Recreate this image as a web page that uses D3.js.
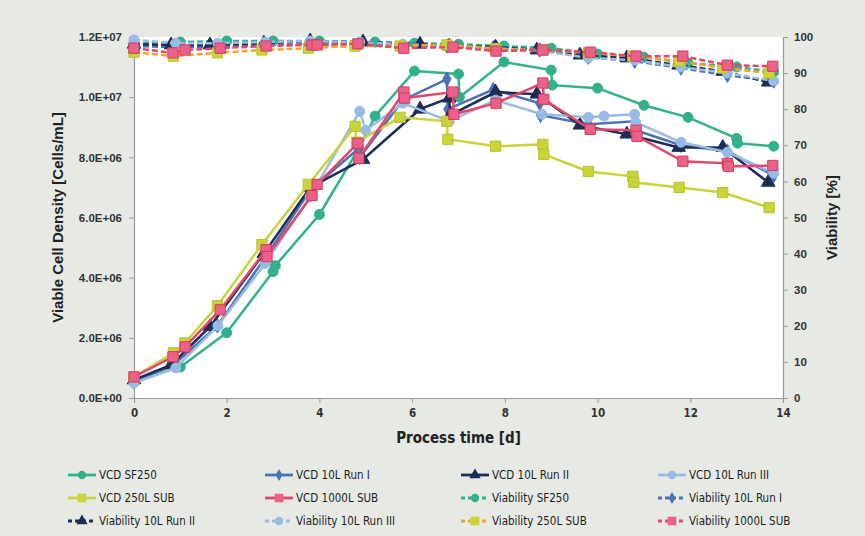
<!DOCTYPE html>
<html>
<head>
<meta charset="utf-8">
<script src="https://cdn.jsdelivr.net/npm/d3@7"></script>
<style>
  body { margin: 0; background: #e6e9e4; }
  svg { display: block; }
  .tick text { font-family: "Liberation Sans", Arial, sans-serif; font-weight: bold; fill: #333; }
  .xax .tick text { font-family: "DejaVu Sans Condensed", "Liberation Sans Narrow", sans-serif; }
  .legend text { font-family: "DejaVu Sans Condensed", "Liberation Sans Narrow", sans-serif; font-size: 11.5px; fill: #1e1e1e; }
</style>
</head>
<body>
<svg id="chart" width="865" height="536"></svg>
<script>
// tick values
var dayTicks = [0, 2, 4, 6, 8, 10, 12, 14];
var vcdTicks = [0, 2e6, 4e6, 6e6, 8e6, 10e6, 12e6];
var viaTicks = [0, 10, 20, 30, 40, 50, 60, 70, 80, 90, 100];

// VCD (1e6 cells/mL)
var sf250Days = [0, 1.0, 2.0, 3.0, 3.05, 4.0, 4.85, 5.2, 6.05, 7.0, 7.02, 7.98, 9.0, 9.02, 10.0, 11.0, 11.95, 13.0, 13.02, 13.8];
var sf250Vcd  = [0.6, 1.03, 2.17, 4.2, 4.4, 6.1, 8.3, 9.37, 10.87, 10.77, 10.0, 11.17, 10.9, 10.4, 10.3, 9.73, 9.33, 8.63, 8.47, 8.37];
var run1Days = [0, 0.85, 1.8, 2.8, 3.8, 4.85, 4.87, 5.8, 6.75, 6.77, 7.75, 8.75, 8.77, 9.8, 10.8, 10.82, 11.8, 12.8, 13.8];
var run1Vcd  = [0.55, 1.1, 2.4, 4.6, 6.9, 8.3, 8.0, 9.9, 10.6, 9.6, 10.25, 9.8, 9.4, 9.1, 9.2, 8.9, 8.4, 8.2, 7.4];
var run2Days = [0, 0.8, 1.64, 2.8, 3.8, 4.94, 6.17, 6.8, 6.82, 7.8, 8.69, 9.62, 10.63, 11.75, 12.7, 13.68];
var run2Vcd  = [0.6, 1.1, 2.37, 4.8, 7.0, 7.93, 9.6, 9.97, 9.4, 10.17, 10.1, 9.07, 8.77, 8.33, 8.33, 7.17];
var run3Days = [0, 0.9, 1.81, 2.83, 3.8, 4.87, 5.0, 5.8, 6.8, 7.8, 8.8, 9.8, 10.14, 10.8, 10.82, 11.8, 12.8, 13.8];
var run3Vcd  = [0.5, 1.0, 2.4, 4.47, 6.7, 9.53, 8.9, 9.8, 9.2, 9.9, 9.43, 9.33, 9.37, 9.43, 9.17, 8.5, 8.17, 7.47];
var sub250Days = [0, 0.85, 1.1, 1.8, 2.76, 3.76, 4.77, 4.8, 5.74, 6.75, 6.77, 7.8, 8.82, 8.84, 9.8, 10.76, 10.78, 11.76, 12.7, 13.7];
var sub250Vcd  = [0.7, 1.5, 1.83, 3.07, 5.1, 7.1, 9.03, 8.5, 9.33, 9.2, 8.6, 8.37, 8.43, 8.1, 7.53, 7.37, 7.17, 7.0, 6.83, 6.33];
var sub1000Days = [0, 0.84, 1.1, 1.86, 2.85, 2.87, 3.84, 3.95, 4.83, 4.85, 5.82, 5.84, 6.88, 6.9, 7.81, 8.82, 8.84, 9.84, 10.83, 10.85, 11.84, 12.8, 12.82, 13.78];
var sub1000Vcd  = [0.7, 1.37, 1.7, 2.93, 4.93, 4.7, 6.73, 7.1, 8.47, 7.97, 10.17, 9.97, 10.17, 9.43, 9.8, 10.47, 9.93, 8.93, 8.9, 8.7, 7.87, 7.8, 7.7, 7.73];

// viability (%)
var sf250ViaDays = [0, 1, 2, 3, 4, 5.2, 6.05, 7, 7.98, 9, 10, 11, 11.95, 13, 13.8];
var sf250Via     = [98.3, 98.6, 98.9, 98.9, 98.9, 98.6, 98.3, 98.0, 97.5, 96.9, 95.3, 94.4, 92.8, 91.7, 90.3];
var run1ViaDays = [0, 0.85, 1.8, 2.8, 3.8, 4.85, 5.8, 6.75, 7.75, 8.75, 9.8, 10.8, 11.8, 12.8, 13.8];
var run1Via     = [97.5, 97.2, 97.2, 97.8, 98.0, 98.0, 97.5, 97.5, 97.0, 96.4, 94.4, 93.3, 91.4, 89.4, 87.8];
var run2ViaDays = [0, 0.8, 1.64, 2.8, 3.8, 4.94, 6.17, 6.8, 7.8, 8.69, 9.62, 10.63, 11.75, 12.7, 13.68];
var run2Via     = [98.0, 97.8, 97.8, 98.3, 98.9, 98.6, 98.0, 97.5, 97.2, 96.4, 95.0, 94.2, 92.2, 90.5, 87.5];
var run3ViaDays = [0, 0.9, 1.81, 2.83, 3.8, 4.87, 5.8, 6.8, 7.8, 8.8, 9.8, 10.8, 11.8, 12.8, 13.8];
var run3Via     = [99.2, 98.3, 98.3, 98.6, 98.9, 98.6, 98.0, 97.5, 96.9, 96.1, 94.2, 93.6, 91.7, 90.0, 87.8];
var sub250ViaDays = [0, 0.85, 1.8, 2.76, 3.76, 4.77, 5.74, 6.75, 7.8, 8.82, 9.8, 10.76, 11.76, 12.7, 13.7];
var sub250Via     = [95.8, 94.7, 95.6, 96.4, 96.9, 97.5, 97.5, 97.8, 96.7, 96.4, 95.6, 94.7, 93.3, 91.4, 90.0];
var sub1000ViaDays = [0, 0.84, 1.1, 1.86, 2.85, 3.84, 3.95, 4.83, 5.82, 6.88, 7.81, 8.82, 9.84, 10.83, 11.84, 12.8, 13.78];
var sub1000Via     = [96.9, 95.6, 96.4, 96.9, 97.5, 97.8, 97.8, 98.1, 96.9, 97.2, 96.1, 96.4, 95.8, 94.7, 94.7, 92.2, 91.9];

var teal = "#32b08b", blue = "#4a73b1", navy = "#1c2c55", light = "#98bbe6",
    lime = "#c9d33a", orange = "#f2a52e", pink = "#e2476d";

var series = [
  { name: "VCD SF250", days: sf250Days, vals: sf250Vcd, axis: "vcd", line: teal, fill: teal, sym: d3.symbolCircle, dash: null },
  { name: "VCD 10L Run I", days: run1Days, vals: run1Vcd, axis: "vcd", line: blue, fill: blue, sym: d3.symbolDiamond, dash: null },
  { name: "VCD 10L Run II", days: run2Days, vals: run2Vcd, axis: "vcd", line: navy, fill: navy, sym: d3.symbolTriangle, dash: null },
  { name: "VCD 10L Run III", days: run3Days, vals: run3Vcd, axis: "vcd", line: light, fill: light, sym: d3.symbolCircle, dash: null },
  { name: "VCD 250L SUB", days: sub250Days, vals: sub250Vcd, axis: "vcd", line: lime, fill: lime, sym: d3.symbolSquare, dash: null },
  { name: "VCD 1000L SUB", days: sub1000Days, vals: sub1000Vcd, axis: "vcd", line: pink, fill: "#ec6187", sym: d3.symbolSquare, dash: null },
  { name: "Viability SF250", days: sf250ViaDays, vals: sf250Via, axis: "via", line: teal, fill: teal, sym: d3.symbolCircle, dash: "6,3" },
  { name: "Viability 10L Run I", days: run1ViaDays, vals: run1Via, axis: "via", line: blue, fill: blue, sym: d3.symbolDiamond, dash: "6,3" },
  { name: "Viability 10L Run II", days: run2ViaDays, vals: run2Via, axis: "via", line: navy, fill: navy, sym: d3.symbolTriangle, dash: "6,3" },
  { name: "Viability 10L Run III", days: run3ViaDays, vals: run3Via, axis: "via", line: light, fill: light, sym: d3.symbolCircle, dash: "6,3" },
  { name: "Viability 250L SUB", days: sub250ViaDays, vals: sub250Via, axis: "via", line: orange, fill: lime, sym: d3.symbolSquare, dash: "6,3" },
  { name: "Viability 1000L SUB", days: sub1000ViaDays, vals: sub1000Via, axis: "via", line: pink, fill: "#ec6187", sym: d3.symbolSquare, dash: "6,3" }
];

var symSize = function(sym) {
  if (sym === d3.symbolSquare) return 105;
  if (sym === d3.symbolTriangle) return 80;
  if (sym === d3.symbolDiamond) return 60;
  return 78;
};

var svg = d3.select("#chart");
var plotL = 134, plotR = 783, plotT = 37, plotB = 398;

svg.append("rect").attr("width", 865).attr("height", 536).attr("fill", "#e6e9e4");
svg.append("rect").attr("x", plotL).attr("y", plotT).attr("width", plotR - plotL).attr("height", plotB - plotT).attr("fill", "#fff");

var x = d3.scaleLinear().domain([0, 14]).range([plotL, plotR]);
var yV = d3.scaleLinear().domain([0, 12e6]).range([plotB, plotT]);
var yP = d3.scaleLinear().domain([0, 100]).range([plotB, plotT]);

function sci(v) {
  if (v === 0) return "0.0E+00";
  var e = Math.floor(Math.log10(v));
  return (v / Math.pow(10, e)).toFixed(1) + "E+" + String(e).padStart(2, "0");
}

var gx = svg.append("g").attr("class", "xax").attr("transform", "translate(0," + plotB + ")")
  .call(d3.axisBottom(x).tickValues(dayTicks).tickSize(5).tickPadding(6));
gx.selectAll("text").style("font-size", "11.5px");

var gl = svg.append("g").attr("transform", "translate(" + plotL + ",0)")
  .call(d3.axisLeft(yV).tickValues(vcdTicks).tickFormat(sci).tickSize(5).tickPadding(7));
gl.selectAll("text").style("font-size", "11.5px");

var gr = svg.append("g").attr("transform", "translate(" + plotR + ",0)")
  .call(d3.axisRight(yP).tickValues(viaTicks).tickSize(5).tickPadding(6));
gr.selectAll("text").style("font-size", "11.5px");

svg.selectAll(".domain").attr("stroke", "#9a9a9a").attr("stroke-width", 1.2);
svg.selectAll(".tick line").attr("stroke", "#9a9a9a");

// axis titles
svg.append("text")
  .attr("transform", "translate(63," + (plotT + plotB) / 2 + ")rotate(-90)")
  .attr("text-anchor", "middle")
  .style("font-family", "Liberation Sans, Arial, sans-serif")
  .style("font-weight", "bold").style("font-size", "15px").style("fill", "#222")
  .text("Viable Cell Density [Cells/mL]");

svg.append("text")
  .attr("transform", "translate(837," + (plotT + plotB) / 2 + ")rotate(-90)")
  .attr("text-anchor", "middle")
  .style("font-family", "Liberation Sans, Arial, sans-serif")
  .style("font-weight", "bold").style("font-size", "15px").style("fill", "#222")
  .text("Viability [%]");

svg.append("text")
  .attr("x", (plotL + plotR) / 2).attr("y", 443)
  .attr("text-anchor", "middle")
  .style("font-family", "DejaVu Sans Condensed, Liberation Sans Narrow, sans-serif")
  .style("font-weight", "bold").style("font-size", "15px").style("fill", "#222")
  .text("Process time [d]");

// series
var plot = svg.append("g");
series.forEach(function(s) {
  var y = s.axis === "vcd" ? yV : yP;
  var k = s.axis === "vcd" ? 1e6 : 1;
  var pts = s.days.map(function(d, i) { return [d, s.vals[i] * k]; });
  var line = d3.line().x(function(p) { return x(p[0]); }).y(function(p) { return y(p[1]); });
  plot.append("path")
    .attr("d", line(pts))
    .attr("fill", "none")
    .attr("stroke", s.line)
    .attr("stroke-width", 2.5)
    .attr("stroke-dasharray", s.dash);
  plot.append("g").selectAll("path")
    .data(pts)
    .enter()
    .append("path")
    .attr("transform", function(p) { return "translate(" + x(p[0]) + "," + y(p[1]) + ")"; })
    .attr("d", d3.symbol().type(s.sym).size(symSize(s.sym)))
    .attr("fill", s.fill)
    .attr("stroke", s.sym === d3.symbolSquare ? (s.fill === lime ? "#b7c22c" : "#d33a5f") : s.fill)
    .attr("stroke-width", 1);
});

// legend
var colX = [68, 265, 461, 658];
var rowY = [475, 498, 521];
var legend = svg.append("g").attr("class", "legend");
series.forEach(function(s, i) {
  var lx = colX[i % 4], ly = rowY[Math.floor(i / 4)];
  var g = legend.append("g").attr("transform", "translate(" + lx + "," + ly + ")");
  g.append("line").attr("x1", 0).attr("x2", 28).attr("y1", 0).attr("y2", 0)
    .attr("stroke", s.line).attr("stroke-width", 2.8).attr("stroke-dasharray", s.dash ? "4,3" : null);
  g.append("path").attr("transform", "translate(14,0)")
    .attr("d", d3.symbol().type(s.sym).size(symSize(s.sym) * 0.7))
    .attr("fill", s.fill);
  g.append("text").attr("x", 31).attr("y", 4).text(s.name);
});
</script>
</body>
</html>
